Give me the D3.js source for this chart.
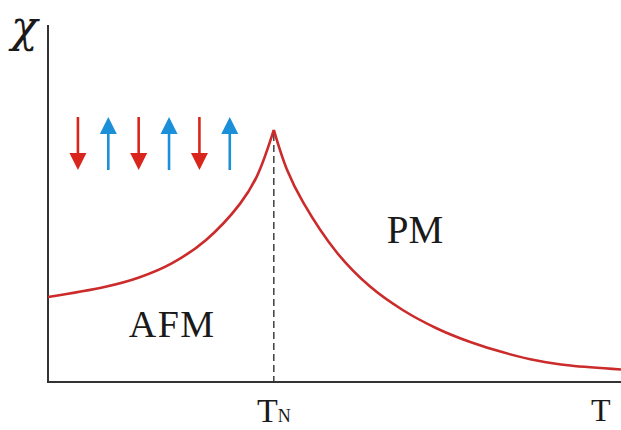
<!DOCTYPE html>
<html>
<head>
<meta charset="utf-8">
<script src="https://cdn.jsdelivr.net/npm/d3@7"></script>
<style>
  html, body { margin: 0; padding: 0; background: #fff; }
  svg { display: block; }
  text { font-family: "Liberation Serif", "DejaVu Serif", serif; fill: #1a1a1a; }
</style>
</head>
<body>
<svg id="chart" width="621" height="430"></svg>
<script>
// Susceptibility χ(T) of an antiferromagnet: rises up to the Néel point, Curie–Weiss tail above it
const neelT = 40;

// below T_N (antiferromagnetic order)
const afmT   = [0, 10, 16, 22, 28, 34, 37, 40];
const afmChi = [0.238, 0.266, 0.292, 0.333, 0.398, 0.499, 0.576, 0.706];

// above T_N (paramagnetic)
const pmT   = [40, 42.3, 45.2, 51.2, 57.0, 62.9, 68.9, 74.8, 80.6, 86.6, 92.5, 101.5];
const pmChi = [0.706, 0.596, 0.503, 0.362, 0.268, 0.201, 0.150, 0.112, 0.083, 0.060, 0.046, 0.035];

// alternating spins drawn in the ordered region
const spins = ["down", "up", "down", "up", "down", "up"];

const svg = d3.select("#chart");
const W = 621, H = 430;
const x0 = 48, y0 = 382;

const x = d3.scaleLinear().domain([0, 101.5]).range([x0, W]);
const y = d3.scaleLinear().domain([0, 1]).range([y0, 25]);

// axes (plain lines, no ticks)
const axisColor = "#333";
svg.append("line")
  .attr("x1", x(0)).attr("x2", x(0))
  .attr("y1", y(1)).attr("y2", y(0) + 1)
  .attr("stroke", axisColor).attr("stroke-width", 2);
svg.append("line")
  .attr("x1", x(0) - 1).attr("x2", x(101.5))
  .attr("y1", y(0)).attr("y2", y(0))
  .attr("stroke", axisColor).attr("stroke-width", 2);

// dashed marker at the Néel temperature
const peakChi = afmChi[afmChi.length - 1];
svg.append("line")
  .attr("x1", x(neelT)).attr("x2", x(neelT))
  .attr("y1", y(peakChi) + 4).attr("y2", y(0))
  .attr("stroke", "#333").attr("stroke-width", 1.4)
  .attr("stroke-dasharray", "7,4");

// the two branches, drawn separately so the cusp stays sharp
const line = d3.line()
  .x(d => x(d[0])).y(d => y(d[1]))
  .curve(d3.curveCatmullRom.alpha(0.5));
const curveColor = "#cc2b2b";
[[afmT, afmChi], [pmT, pmChi]].forEach(([ts, cs]) => {
  svg.append("path")
    .datum(ts.map((t, i) => [t, cs[i]]))
    .attr("d", line)
    .attr("fill", "none")
    .attr("stroke", curveColor)
    .attr("stroke-width", 2.6)
    .attr("stroke-linejoin", "miter");
});

// spin arrows
const spinX = d3.scalePoint().domain(d3.range(spins.length)).range([x(5.3), x(32.2)]);
const spinTop = 117, spinBottom = 170, headLen = 17, headHalf = 8.5;
const spinColor = { down: "#d9261c", up: "#1b90d8" };
const g = svg.append("g");
spins.forEach((s, i) => {
  const cx = spinX(i);
  const col = spinColor[s];
  if (s === "down") {
    g.append("line").attr("x1", cx).attr("x2", cx)
      .attr("y1", spinTop).attr("y2", spinBottom - headLen + 1)
      .attr("stroke", col).attr("stroke-width", 2.6);
    g.append("path")
      .attr("d", `M${cx - headHalf},${spinBottom - headLen}L${cx + headHalf},${spinBottom - headLen}L${cx},${spinBottom}Z`)
      .attr("fill", col);
  } else {
    g.append("line").attr("x1", cx).attr("x2", cx)
      .attr("y1", spinTop + headLen - 1).attr("y2", spinBottom)
      .attr("stroke", col).attr("stroke-width", 2.6);
    g.append("path")
      .attr("d", `M${cx - headHalf},${spinTop + headLen}L${cx + headHalf},${spinTop + headLen}L${cx},${spinTop}Z`)
      .attr("fill", col);
  }
});

// labels
svg.append("text").attr("x", 11).attr("y", 42)
  .style("font-family", "'DejaVu Serif', serif")
  .attr("font-size", 44).attr("font-style", "italic").text("χ");

svg.append("text").attr("x", x(14.3)).attr("y", 337)
  .attr("font-size", 38).attr("letter-spacing", 1.5).text("AFM");

svg.append("text").attr("x", x(60)).attr("y", 243)
  .attr("font-size", 39).text("PM");

const tn = svg.append("text").attr("x", x(neelT)).attr("y", 422)
  .attr("text-anchor", "middle");
tn.append("tspan").attr("font-size", 34).text("T");
tn.append("tspan").attr("font-size", 18).text("N");

svg.append("text").attr("x", 591).attr("y", 421)
  .attr("font-size", 32).text("T");
</script>
</body>
</html>
